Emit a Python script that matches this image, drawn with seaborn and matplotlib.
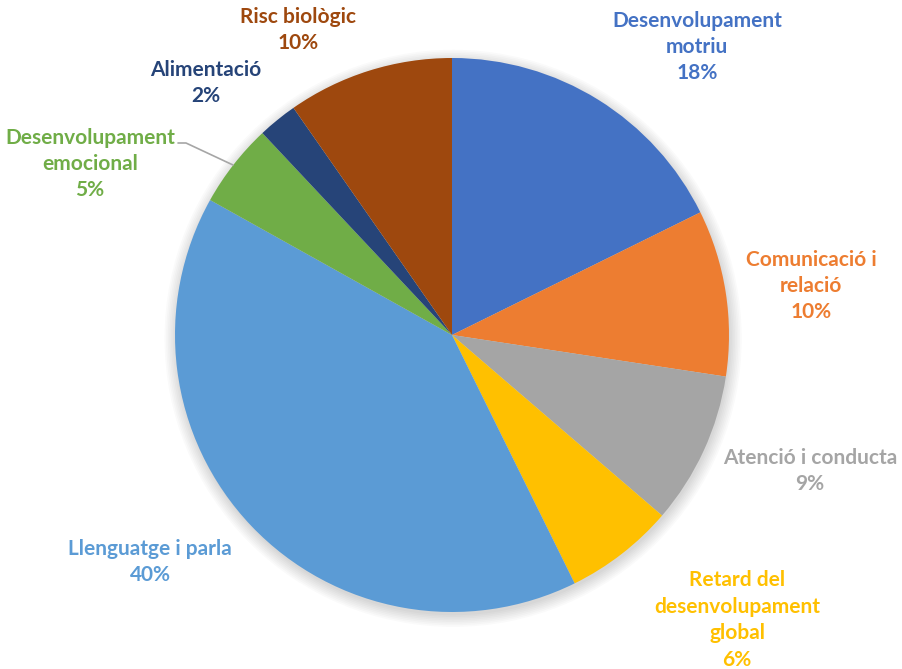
import matplotlib.pyplot as plt
import seaborn as sns
from matplotlib.patches import Circle

# =============================
# Data
# =============================
categories = [
    "Desenvolupament\nmotriu",
    "Comunicació i\nrelació",
    "Atenció i conducta",
    "Retard del\ndesenvolupament\nglobal",
    "Llenguatge i parla",
    "Desenvolupament\nemocional",
    "Alimentació",
    "Risc biològic",
]
# shares (%)
values = [17.7, 9.7, 8.9, 6.4, 40.4, 4.9, 2.3, 9.7]
colors = ["#4472C4", "#ED7D31", "#A5A5A5", "#FFC000",
          "#5B9BD5", "#70AD47", "#264478", "#9E480E"]

# label centres in pixels (from top-left of the picture)
label_px = [(697, 47), (811, 286), (810, 471), (737, 620),
            (150, 562), (90, 164), (206, 83), (298, 30)]

sns.set_theme(style="white")
plt.rcParams["font.family"] = ["Lato", "DejaVu Sans"]

W, H = 902, 669
CX, CY, R = 452, 335, 277

fig = plt.figure(figsize=(W / 100, H / 100), dpi=100)
ax = fig.add_axes([0, 0, 1, 1])

# soft shadow
for i in range(8):
    ax.add_patch(Circle((0.004, -0.012), 1.0 + 0.006 * i, color="black",
                        alpha=0.018, lw=0, zorder=0))

ax.pie(values, colors=colors, startangle=90, counterclock=False,
       radius=1.0, wedgeprops=dict(linewidth=0))

# pie() resets the limits, so set them afterwards
ax.set_xlim(-CX / R, (W - CX) / R)
ax.set_ylim(-(H - CY) / R, CY / R)
ax.set_aspect("equal")
ax.axis("off")

def to_data(px, py):
    return (px - CX) / R, (CY - py) / R

for cat, val, col, (px, py) in zip(categories, values, colors, label_px):
    x, y = to_data(px, py)
    ax.text(x, y, f"{cat}\n{round(val)}%", color=col, fontsize=15,
            fontweight="bold", ha="center", va="center", linespacing=1.4)

# leader line for "Desenvolupament emocional"
pts = [to_data(178, 143), to_data(186, 143), to_data(233, 165)]
ax.plot([p[0] for p in pts], [p[1] for p in pts], color="#A6A6A6", lw=1.2)

plt.savefig("out.png", dpi=100)
